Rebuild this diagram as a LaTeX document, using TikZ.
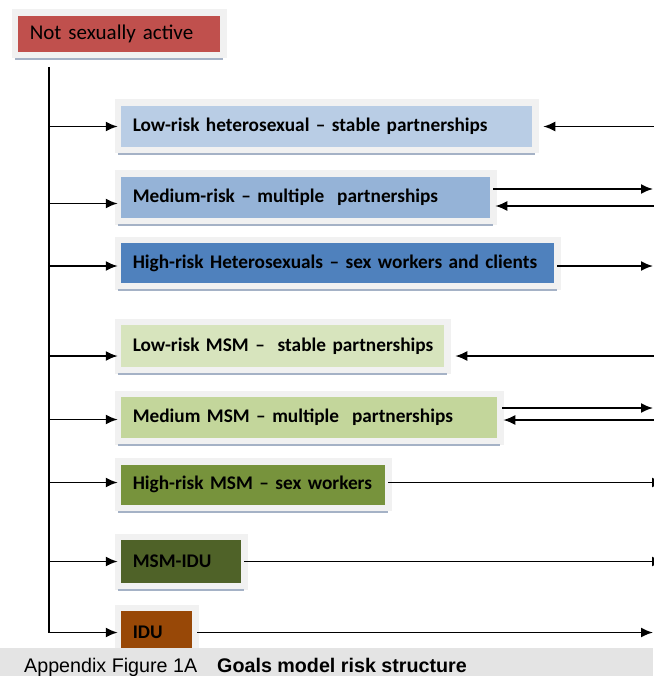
\documentclass[tikz,border=0pt]{standalone}
\usepackage{fontspec}
\setmainfont{Carlito}
\newfontfamily\captionfont{Liberation Sans}
\usetikzlibrary{arrows.meta}

\definecolor{inactivered}{RGB}{192,80,77}
\definecolor{hetlow}{RGB}{185,205,229}
\definecolor{hetmed}{RGB}{149,179,215}
\definecolor{hethigh}{RGB}{79,129,189}
\definecolor{msmlow}{RGB}{215,228,189}
\definecolor{msmmed}{RGB}{195,214,155}
\definecolor{msmhigh}{RGB}{119,147,60}
\definecolor{msmidugreen}{RGB}{79,98,40}
\definecolor{iduorange}{RGB}{152,72,7}
\definecolor{boxframe}{RGB}{241,241,241}
\definecolor{boxshade}{RGB}{165,178,198}
\definecolor{captiongrey}{RGB}{228,228,228}

\tikzset{
    riskbox/.style 2 args={draw=boxframe, line width=6.5pt, fill=#1,
        text width=#2, align=left, inner xsep=15pt, inner ysep=0pt,
        outer sep=0pt, minimum height=47.5pt, anchor=west,
        font=\bfseries\fontsize{19.3}{22}\selectfont},
    flow/.style={-{Latex[length=12pt,width=10pt]}, line width=1.8pt},
}

\begin{document}
\begin{tikzpicture}[x=1pt,y=-1pt,line cap=butt,line join=miter]
    \useasboundingbox (0,0) rectangle (653,676);

    % top box
    \node[riskbox={inactivered}{178.5pt}, font=\fontsize{21}{24}\selectfont,
        minimum height=42.5pt] (nsa) at (14.75,34) {Not sexually active};

    % risk groups
    \node[riskbox={hetlow}{387.5pt}] (lhet) at (117.75,126.5)
        {Low-risk heterosexual -- stable partnerships};
    \node[riskbox={hetmed}{345.5pt}] (mhet) at (117.75,197.5)
        {Medium-risk -- multiple\ \ partnerships};
    \node[riskbox={hethigh}{409.5pt}, minimum height=46.5pt] (hhet) at (117.75,263)
        {High-risk Heterosexuals -- sex workers and clients};
    \node[riskbox={msmlow}{299.5pt}, minimum height=48.5pt] (lmsm) at (117.75,346)
        {\mbox{Low-risk MSM --\ \ stable partnerships}};
    \node[riskbox={msmmed}{352.5pt}] (mmsm) at (117.75,417.5)
        {Medium MSM -- multiple\ \ partnerships};
    \node[riskbox={msmhigh}{240.5pt}, minimum height=46.5pt] (hmsm) at (117.75,484.5)
        {High-risk MSM -- sex workers};
    \node[riskbox={msmidugreen}{96.5pt}, minimum height=49.5pt] (msmidu) at (117.75,561.5)
        {MSM-IDU};
    \node[riskbox={iduorange}{47.5pt}, minimum height=49.5pt] (idu) at (117.75,632.5)
        {IDU};

    % shaded lower edge of the boxes
    \foreach \n in {nsa,lhet,mhet,hhet,lmsm,mmsm,hmsm,msmidu} {
        \draw[boxshade,line width=1.8pt] ([yshift=-4pt]\n.south west) -- ([yshift=-4pt]\n.south east);
    }

    % entry from the inactive state
    \coordinate (trunk) at (49,67);
    \draw[flow] (trunk) |- (idu.west);
    \foreach \n/\dy in {lhet/0,mhet/-6,hhet/-3,lmsm/-10,mmsm/-2,hmsm/2,msmidu/0} {
        \path ([yshift=\dy pt]\n.west) coordinate (\n-w);
        \draw[flow] (trunk |- \n-w) -- (\n-w);
    }

    % right margin
    \coordinate (edge) at (653,0);
    \coordinate (offedge) at (664,0);
    \foreach \n/\dy/\xs in {mhet/8.5/0,hhet/-3/0,mmsm/9.5/2,idu/0/2} {
        \path ([xshift=\xs pt,yshift=\dy pt]\n.east) coordinate (\n-out);
        \draw[flow] (\n-out) -- (edge |- \n-out);
    }
    \foreach \n/\dy in {hmsm/2,msmidu/0} {
        \path ([yshift=\dy pt]\n.east) coordinate (\n-out);
        \draw[flow] (\n-out) -- (offedge |- \n-out);
    }
    \foreach \n/\dy/\xs in {lhet/0/8,mhet/-8.5/2,lmsm/-10/8,mmsm/-2.5/3} {
        \path ([xshift=\xs pt,yshift=\dy pt]\n.east) coordinate (\n-in);
        \draw[flow] (offedge |- \n-in) -- (\n-in);
    }

    % caption
    \fill[captiongrey] (0,648) rectangle (653,676);
    \node[anchor=base west, inner sep=0pt, font=\captionfont\fontsize{19.7}{22}\selectfont]
        (caption) at (24,672) {Appendix Figure 1A\hspace{20pt}\textbf{Goals model risk structure}};
\end{tikzpicture}
\end{document}
